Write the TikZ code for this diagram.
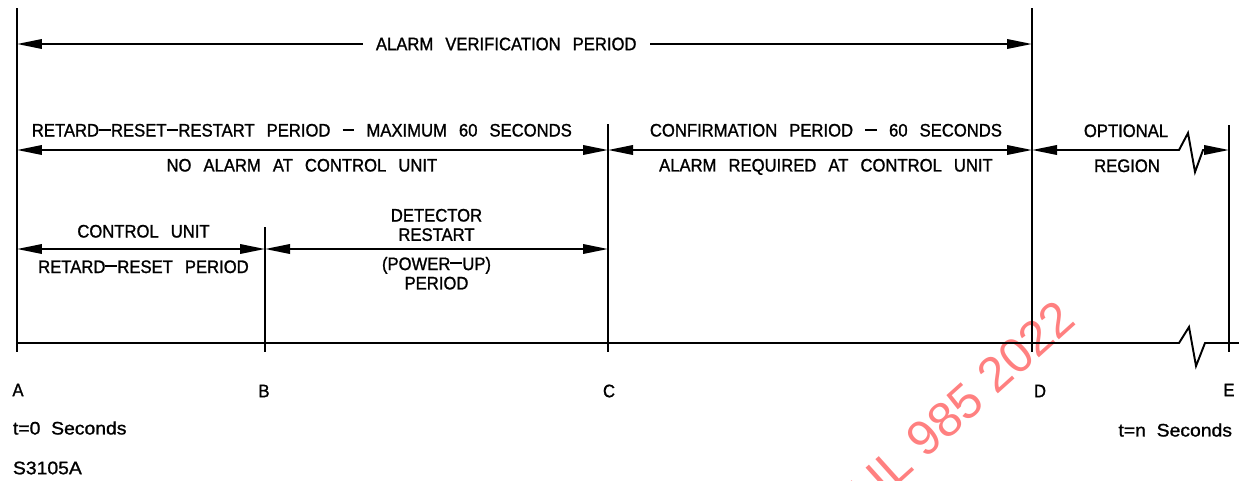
\documentclass[tikz,border=0pt]{standalone}
\usepackage{fontspec}
\setmainfont{Liberation Sans}[FakeStretch=0.92,WordSpace=2.6,FakeBold=1.2]
\newfontfamily\widefont{Liberation Sans}[FakeStretch=1.07,WordSpace=2.0,FakeBold=1.2]
\newfontfamily\stampfont{Liberation Sans}
\newcommand{\cadash}{\rule[0.32em]{0.66em}{0.1em}}
\usepackage{tikz}
\usetikzlibrary{arrows.meta, positioning, calc}
\tikzset{
x=0.02cm, y=-0.02cm,
>={Triangle[length=5mm,width=1.9mm]},
txt/.style={%
    inner sep=0pt,
    font=\fontsize{10.3}{11}\selectfont,
    align=center
},
wide/.style={txt, font=\widefont\fontsize{10.3}{11}\selectfont},
span/.style={<->},
stamp/.style={%
    text=red!50, inner sep=0pt, rotate=42,
    font=\stampfont\fontsize{28}{28}\selectfont
},
}

\begin{document}
\begin{tikzpicture}[line width=1.1pt]
	\clip (0,0) rectangle (1239,480);
	\node[stamp, anchor=base east] (wm) at (1079,322) {UL 985 2022};

	% time marks
	\coordinate (Atop) at (17,8);
	\coordinate (Btop) at (265,227);
	\coordinate (Ctop) at (608,124);
	\coordinate (Dtop) at (1032,8);
	\coordinate (Etop) at (1229,125);
	\coordinate (Abot) at (17,352);
	\coordinate (Bbot) at (265,352);
	\coordinate (Cbot) at (608,352);
	\coordinate (Dbot) at (1032,352);
	\coordinate (Ebot) at (1229,352);

	\path (Atop) edge (Abot);
	\path (Btop) edge (Bbot);
	\path (Ctop) edge (Cbot);
	\path (Dtop) edge (Dbot);
	\path (Etop) edge (Ebot);

	% time axis
	\coordinate (a0) at (17,343);
	\coordinate (r0) at (1239,343);
	\draw (a0) -- (1179,343) -- ++(10,-16) -- ++(7,39) -- ++(9,-23) -- (r0);

	% periods
	\coordinate (a1) at (17,44);
	\coordinate (d1) at (1032,44);
	\coordinate (a2) at (17,150);
	\coordinate (c2) at (608,150);
	\coordinate (d2) at (1032,150);
	\coordinate (e2) at (1229,150);
	\coordinate (a3) at (17,249);
	\coordinate (b3) at (265,249);
	\coordinate (c3) at (608,249);

	\path (a1) edge[span] node[txt, pos=0.482, fill=white, inner xsep=2.6mm] (t1) {ALARM VERIFICATION PERIOD} (d1);

	\path (a2) edge[span]
		node[txt, pos=0.482, anchor=base, yshift=2.7mm] (t2) {RETARD\cadash RESET\cadash RESTART PERIOD \cadash{} MAXIMUM 60 SECONDS}
		node[txt, pos=0.482, anchor=base, yshift=-4.3mm] (t3) {NO ALARM AT CONTROL UNIT} (c2);
	\path (c2) edge[span]
		node[txt, pos=0.514, anchor=base, yshift=2.7mm] (t4) {CONFIRMATION PERIOD \cadash{} 60 SECONDS}
		node[txt, pos=0.514, anchor=base, yshift=-4.3mm] (t5) {ALARM REQUIRED AT CONTROL UNIT} (d2);
	\draw[span] (d2) -- (1179,150) -- ++(9,-17) -- ++(7,39) -- ++(8,-22) -- (e2);
	\node[txt, anchor=base] (t6) at (1126,137) {OPTIONAL};
	\node[txt, anchor=base] (t7) at (1127,172) {REGION};

	\path (a3) edge[span]
		node[txt, pos=0.51, anchor=base, yshift=2.3mm] (t8) {CONTROL UNIT}
		node[txt, pos=0.51, anchor=base, yshift=-4.8mm] (t9) {RETARD\cadash RESET PERIOD} (b3);
	\path (b3) edge[span]
		node[txt, pos=0.5, anchor=south, yshift=1.4mm] (t10) {DETECTOR\\RESTART}
		node[txt, pos=0.5, anchor=north, yshift=-1.4mm] (t11) {(POWER\cadash UP)\\PERIOD} (c3);

	% marks and times
	\node[txt] (lA) at (18,390) {A};
	\node[txt] (lB) at (264,391) {B};
	\node[txt] (lC) at (609,391) {C};
	\node[txt] (lD) at (1040,391) {D};
	\node[txt] (lE) at (1229,390) {E};
	\node[wide, anchor=west] (t0) at (12,428) {t=0 Seconds};
	\node[wide, anchor=east] (tn) at (1233,430) {t=n Seconds};
	\node[wide, anchor=west] (code) at (12,468) {S3105A};
\end{tikzpicture}
\end{document}
